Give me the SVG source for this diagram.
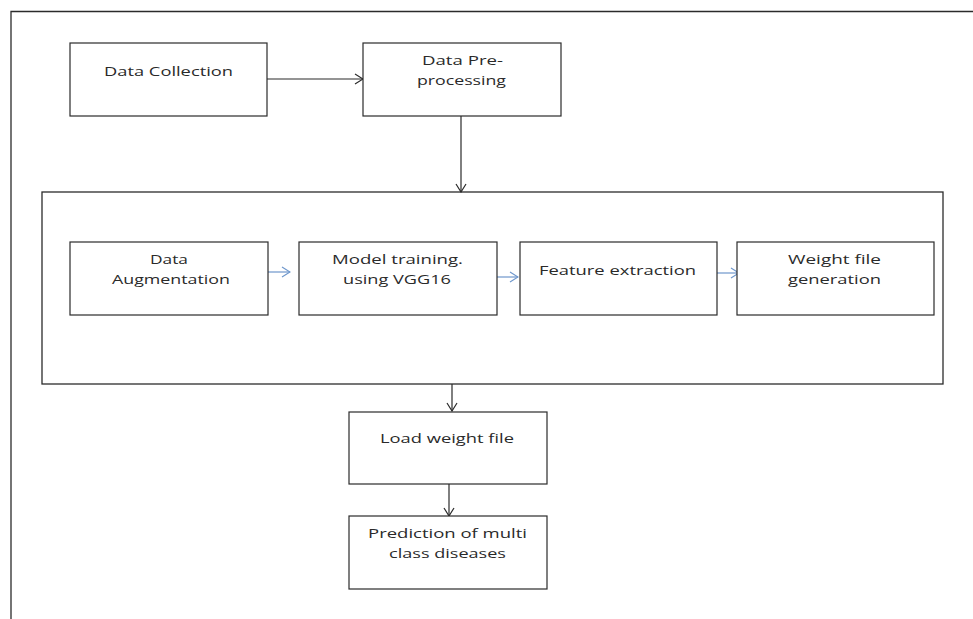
<svg xmlns="http://www.w3.org/2000/svg" width="973" height="619" viewBox="0 0 973 619">
<style>
.box{fill:#fff;stroke:#2b2b2b;stroke-width:1.2}
.cont{fill:none;stroke:#2b2b2b;stroke-width:1.3}
.frame{fill:none;stroke:#2b2b2b;stroke-width:1.3}
.lbl{font-family:"Open Sans","Liberation Sans",sans-serif;font-size:13px;fill:#2a2a2a}
.k{fill:none;stroke:#2b2b2b;stroke-width:1.2}
.b{fill:none;stroke:#6e97cc;stroke-width:1.2}
</style>
<defs>
<marker id="ak" markerWidth="10" markerHeight="12" refX="9" refY="6" orient="auto" markerUnits="userSpaceOnUse">
<path d="M1,1 L9,6 L1,11" fill="none" stroke="#2b2b2b" stroke-width="1.2"/>
</marker>
<marker id="ab" markerWidth="10" markerHeight="12" refX="9" refY="6" orient="auto" markerUnits="userSpaceOnUse">
<path d="M1,1 L9,6 L1,11" fill="none" stroke="#6e97cc" stroke-width="1.2"/>
</marker>
</defs>
<rect width="973" height="619" fill="#fff"/>
<path class="frame" d="M11,619 L11,11.5 L973,11.5"/>
<g id="container"><rect class="cont" x="42" y="192" width="901" height="192"/></g>
<g id="connectors">
<line class="k" x1="267" y1="79" x2="363" y2="79" marker-end="url(#ak)"/>
<line class="k" x1="461" y1="116" x2="461" y2="192" marker-end="url(#ak)"/>
<line class="b" x1="268" y1="272" x2="290" y2="272" marker-end="url(#ab)"/>
<line class="b" x1="497" y1="277" x2="518" y2="277" marker-end="url(#ab)"/>
<line class="b" x1="717" y1="273" x2="739" y2="273" marker-end="url(#ab)"/>
<line class="k" x1="452" y1="384" x2="452" y2="411" marker-end="url(#ak)"/>
<line class="k" x1="449" y1="484" x2="449" y2="516" marker-end="url(#ak)"/>
</g>
<g id="data-collection">
<rect class="box" x="70" y="43" width="197" height="73"/>
<text class="lbl" x="104" y="76" textLength="129" lengthAdjust="spacingAndGlyphs">Data Collection</text>
</g>
<g id="data-preprocessing">
<rect class="box" x="363" y="43" width="198" height="73"/>
<text class="lbl" x="422" y="65" textLength="81" lengthAdjust="spacingAndGlyphs">Data Pre-</text>
<text class="lbl" x="417" y="85" textLength="89" lengthAdjust="spacingAndGlyphs">processing</text>
</g>
<g id="data-augmentation">
<rect class="box" x="70" y="242" width="198" height="73"/>
<text class="lbl" x="150" y="264" textLength="38" lengthAdjust="spacingAndGlyphs">Data</text>
<text class="lbl" x="112" y="284" textLength="118" lengthAdjust="spacingAndGlyphs">Augmentation</text>
</g>
<g id="model-training">
<rect class="box" x="299" y="242" width="198" height="73"/>
<text class="lbl" x="332" y="264" textLength="131" lengthAdjust="spacingAndGlyphs">Model training.</text>
<text class="lbl" x="343" y="284" textLength="108" lengthAdjust="spacingAndGlyphs">using VGG16</text>
</g>
<g id="feature-extraction">
<rect class="box" x="520" y="242" width="197" height="73"/>
<text class="lbl" x="539" y="275" textLength="157" lengthAdjust="spacingAndGlyphs">Feature extraction</text>
</g>
<g id="weight-file-generation">
<rect class="box" x="737" y="242" width="197" height="73"/>
<text class="lbl" x="788" y="264" textLength="93" lengthAdjust="spacingAndGlyphs">Weight file</text>
<text class="lbl" x="788" y="284" textLength="93" lengthAdjust="spacingAndGlyphs">generation</text>
</g>
<g id="load-weight-file">
<rect class="box" x="349" y="412" width="198" height="72"/>
<text class="lbl" x="380" y="443" textLength="134" lengthAdjust="spacingAndGlyphs">Load weight file</text>
</g>
<g id="prediction">
<rect class="box" x="349" y="516" width="198" height="73"/>
<text class="lbl" x="368" y="538" textLength="159" lengthAdjust="spacingAndGlyphs">Prediction of multi</text>
<text class="lbl" x="389" y="558" textLength="117" lengthAdjust="spacingAndGlyphs">class diseases</text>
</g>
</svg>
